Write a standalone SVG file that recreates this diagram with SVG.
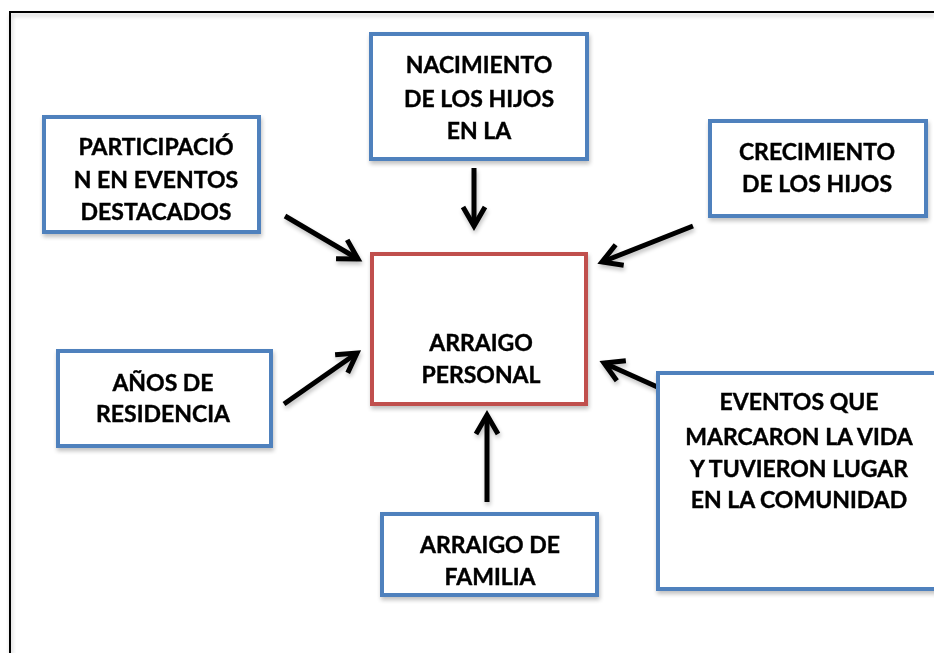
<svg xmlns="http://www.w3.org/2000/svg" width="934" height="653" viewBox="0 0 934 653">
<defs>
<style>
.box{fill:#fff;stroke:#4F81BD;stroke-width:4}
.ctr{fill:#fff;stroke:#C0504D;stroke-width:4}
.t{font-family:"Lato","Liberation Sans",sans-serif;font-weight:bold;font-size:23px;fill:#000;stroke:#000;stroke-width:0.4;text-anchor:middle}
.arr{stroke:#000;stroke-width:5;fill:none;marker-end:url(#ah)}
</style>
<filter id="sh" x="-20%" y="-20%" width="140%" height="140%">
<feGaussianBlur in="SourceAlpha" stdDeviation="2"/>
<feOffset dx="1" dy="3" result="b"/>
<feComponentTransfer><feFuncA type="linear" slope="0.25"/></feComponentTransfer>
<feMerge><feMergeNode/><feMergeNode in="SourceGraphic"/></feMerge>
</filter>
<marker id="ah" markerUnits="userSpaceOnUse" viewBox="-30 -20 40 40" refX="0" refY="0" markerWidth="40" markerHeight="40" orient="auto">
<path d="M-19,-11 L0,0 L-19,11" fill="none" stroke="#000" stroke-width="5" stroke-linejoin="miter"/>
</marker>
</defs>
<rect width="934" height="653" fill="#fff"/>
<path d="M10,653 V12 H934" fill="none" stroke="#000" stroke-width="2" filter="url(#sh)"/>
<g id="connectors" filter="url(#sh)">
<line class="arr" x1="474" y1="168" x2="474" y2="226"/>
<line class="arr" x1="285" y1="216" x2="358" y2="259"/>
<line class="arr" x1="693" y1="226" x2="602" y2="262"/>
<line class="arr" x1="284" y1="404" x2="357" y2="353"/>
<line class="arr" x1="487" y1="502" x2="487" y2="415"/>
<line class="arr" x1="693" y1="403" x2="604" y2="363"/>
</g>
<g id="n-nacimiento" filter="url(#sh)">
<rect class="box" x="371" y="34" width="216" height="125"/>
<text class="t" x="479" y="73">NACIMIENTO</text>
<text class="t" x="479" y="107">DE LOS HIJOS</text>
<text class="t" x="479" y="139">EN LA</text>
</g>
<g id="n-participacion" filter="url(#sh)">
<rect class="box" x="44" y="117" width="215" height="115"/>
<text class="t" x="156" y="155">PARTICIPACIÓ</text>
<text class="t" x="156" y="188">N EN EVENTOS</text>
<text class="t" x="156" y="220">DESTACADOS</text>
</g>
<g id="n-crecimiento" filter="url(#sh)">
<rect class="box" x="710" y="121" width="216" height="95"/>
<text class="t" x="817" y="160">CRECIMIENTO</text>
<text class="t" x="817" y="192">DE LOS HIJOS</text>
</g>
<g id="n-arraigo-personal" filter="url(#sh)">
<rect class="ctr" x="372" y="254" width="214" height="150"/>
<text class="t" x="481" y="351">ARRAIGO</text>
<text class="t" x="481" y="383">PERSONAL</text>
</g>
<g id="n-anos" filter="url(#sh)">
<rect class="box" x="58" y="351" width="213" height="95"/>
<text class="t" x="163" y="391">AÑOS DE</text>
<text class="t" x="163" y="422">RESIDENCIA</text>
</g>
<g id="n-eventos" filter="url(#sh)">
<rect class="box" x="658" y="373" width="290" height="216"/>
<text class="t" x="799" y="410">EVENTOS QUE</text>
<text class="t" x="799" y="445">MARCARON LA VIDA</text>
<text class="t" x="799" y="477">Y TUVIERON LUGAR</text>
<text class="t" x="799" y="508">EN LA COMUNIDAD</text>
</g>
<g id="n-arraigo-familia" filter="url(#sh)">
<rect class="box" x="382" y="514" width="215" height="81"/>
<text class="t" x="490" y="553">ARRAIGO DE</text>
<text class="t" x="490" y="585">FAMILIA</text>
</g>
</svg>
